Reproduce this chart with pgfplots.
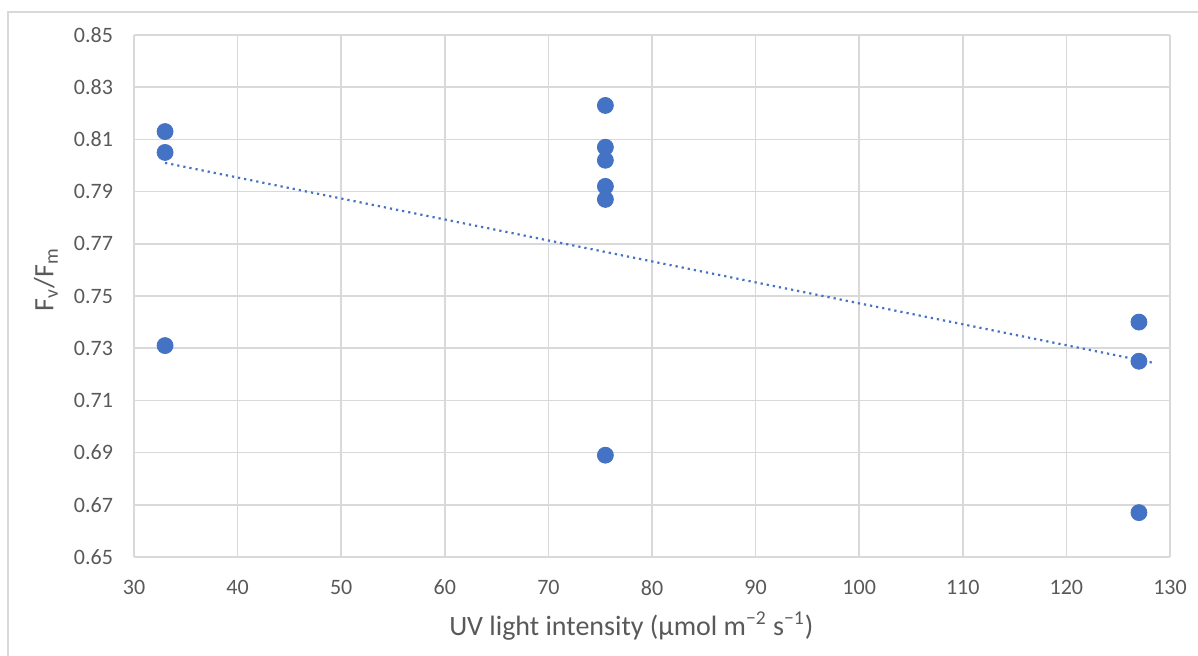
\documentclass[border=0pt]{standalone}
\usepackage{fontspec}
\setmainfont{Carlito}
\usepackage{pgfplots}
\pgfplotsset{compat=1.18}
\definecolor{xlblue}{RGB}{68,114,196}
\definecolor{gridgray}{RGB}{217,217,217}
\definecolor{txtgray}{RGB}{89,89,89}

\begin{document}
\begin{tikzpicture}
\begin{axis}[
    at={(67pt,49.5pt)}, anchor=south west,
    scale only axis,
    width=518pt, height=261pt,
    xmin=30, xmax=130, ymin=0.65, ymax=0.85,
    xtick={30,40,...,130},
    ytick={0.65,0.67,...,0.86},
    grid=major,
    major grid style={gridgray, line width=0.8pt},
    axis line style={gridgray, line width=0.8pt},
    tick style={draw=none},
    axis x line*=bottom, axis y line*=left,
    separate axis lines,
    every outer x axis line/.append style={gridgray},
    every outer y axis line/.append style={gridgray},
    /pgf/number format/assume math mode=true,
    yticklabel style={/pgf/number format/fixed, /pgf/number format/precision=2,
        /pgf/number format/fixed zerofill},
    tick label style={font=\fontsize{11}{13}\selectfont, text=txtgray},
    xticklabel style={yshift=-8pt},
    yticklabel style={xshift=-7pt},
    xlabel={UV light intensity (µmol m\textsuperscript{−2} s\textsuperscript{−1})},
    ylabel={F\textsubscript{v}/F\textsubscript{m}},
    label style={font=\fontsize{14}{16}\selectfont, text=txtgray},
    xlabel style={at={(axis description cs:0.48,-0.132)}, anchor=center},
    ylabel style={at={(axis description cs:-0.085,0.531)}, anchor=center},
    clip=false,
]
\addplot[only marks, mark=*, mark size=4pt, mark options={draw=xlblue, fill=xlblue}]
  coordinates {
    (33,0.813) (33,0.805) (33,0.731)
    (75.5,0.823) (75.5,0.807) (75.5,0.802) (75.5,0.792) (75.5,0.787) (75.5,0.689)
    (127,0.740) (127,0.725) (127,0.667)
  };
% linear trend line
\addplot[xlblue, line width=1.1pt, dotted] coordinates {(33,0.8010) (128.5,0.7243)};
\end{axis}
\draw[gridgray, line width=0.8pt] (4pt,-5pt) -- (4pt,322pt) -- (604pt,322pt);
\pgfresetboundingbox
\useasboundingbox (0,0) rectangle (599pt,328pt);
\end{tikzpicture}
\end{document}
